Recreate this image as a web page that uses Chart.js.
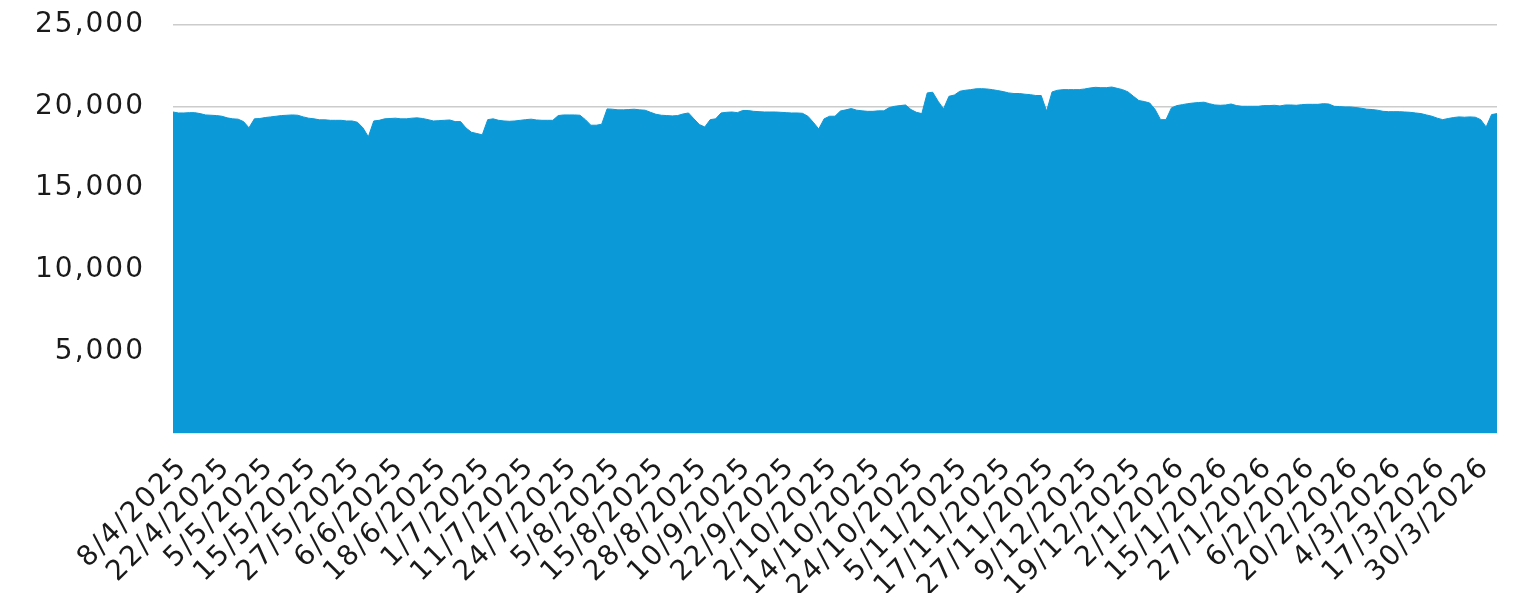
<!DOCTYPE html>
<html>
<head>
<meta charset="utf-8">
<script src="https://cdn.jsdelivr.net/npm/chart.js@4.4.1/dist/chart.umd.min.js"></script>
<style>
  html, body { margin: 0; padding: 0; background: #ffffff; overflow: hidden; }
  canvas { display: block; }
</style>
</head>
<body>
<canvas id="c" width="1530" height="593" style="width:1530px;height:593px"></canvas>
<script>
// Categories: trading dates (d/m/yyyy)
const dates = [
  "8/4/2025","9/4/2025","10/4/2025","11/4/2025","14/4/2025","15/4/2025","16/4/2025","17/4/2025",
  "22/4/2025","23/4/2025","24/4/2025","28/4/2025","29/4/2025","30/4/2025","1/5/2025","2/5/2025",
  "5/5/2025","6/5/2025","7/5/2025","8/5/2025","9/5/2025","12/5/2025","13/5/2025","14/5/2025",
  "15/5/2025","16/5/2025","19/5/2025","20/5/2025","21/5/2025","22/5/2025","23/5/2025","26/5/2025",
  "27/5/2025","28/5/2025","29/5/2025","30/5/2025","2/6/2025","3/6/2025","4/6/2025","5/6/2025",
  "6/6/2025","9/6/2025","10/6/2025","11/6/2025","12/6/2025","13/6/2025","16/6/2025","17/6/2025",
  "18/6/2025","19/6/2025","20/6/2025","23/6/2025","24/6/2025","25/6/2025","26/6/2025","27/6/2025",
  "1/7/2025","2/7/2025","3/7/2025","4/7/2025","7/7/2025","8/7/2025","9/7/2025","10/7/2025",
  "11/7/2025","14/7/2025","15/7/2025","16/7/2025","17/7/2025","18/7/2025","21/7/2025","22/7/2025",
  "24/7/2025","25/7/2025","28/7/2025","29/7/2025","30/7/2025","31/7/2025","1/8/2025","4/8/2025",
  "5/8/2025","6/8/2025","7/8/2025","8/8/2025","11/8/2025","12/8/2025","13/8/2025","14/8/2025",
  "15/8/2025","18/8/2025","19/8/2025","20/8/2025","21/8/2025","22/8/2025","26/8/2025","27/8/2025",
  "28/8/2025","29/8/2025","2/9/2025","3/9/2025","4/9/2025","5/9/2025","8/9/2025","9/9/2025",
  "10/9/2025","11/9/2025","12/9/2025","15/9/2025","16/9/2025","17/9/2025","18/9/2025","19/9/2025",
  "22/9/2025","23/9/2025","24/9/2025","25/9/2025","26/9/2025","29/9/2025","30/9/2025","1/10/2025",
  "2/10/2025","3/10/2025","6/10/2025","7/10/2025","8/10/2025","9/10/2025","10/10/2025","13/10/2025",
  "14/10/2025","15/10/2025","16/10/2025","17/10/2025","20/10/2025","21/10/2025","22/10/2025","23/10/2025",
  "24/10/2025","27/10/2025","28/10/2025","29/10/2025","30/10/2025","31/10/2025","3/11/2025","4/11/2025",
  "5/11/2025","6/11/2025","7/11/2025","10/11/2025","11/11/2025","12/11/2025","13/11/2025","14/11/2025",
  "17/11/2025","18/11/2025","19/11/2025","20/11/2025","21/11/2025","24/11/2025","25/11/2025","26/11/2025",
  "27/11/2025","28/11/2025","1/12/2025","2/12/2025","3/12/2025","4/12/2025","5/12/2025","8/12/2025",
  "9/12/2025","10/12/2025","11/12/2025","12/12/2025","15/12/2025","16/12/2025","17/12/2025","18/12/2025",
  "19/12/2025","22/12/2025","23/12/2025","24/12/2025","26/12/2025","29/12/2025","30/12/2025","31/12/2025",
  "2/1/2026","5/1/2026","6/1/2026","7/1/2026","8/1/2026","9/1/2026","12/1/2026","13/1/2026",
  "15/1/2026","16/1/2026","19/1/2026","20/1/2026","21/1/2026","22/1/2026","23/1/2026","26/1/2026",
  "27/1/2026","28/1/2026","29/1/2026","30/1/2026","2/2/2026","3/2/2026","4/2/2026","5/2/2026",
  "6/2/2026","9/2/2026","10/2/2026","11/2/2026","12/2/2026","13/2/2026","17/2/2026","18/2/2026",
  "20/2/2026","23/2/2026","24/2/2026","25/2/2026","26/2/2026","27/2/2026","2/3/2026","3/3/2026",
  "4/3/2026","5/3/2026","6/3/2026","10/3/2026","11/3/2026","12/3/2026","13/3/2026","16/3/2026",
  "17/3/2026","18/3/2026","19/3/2026","20/3/2026","23/3/2026","24/3/2026","25/3/2026","26/3/2026",
  "30/3/2026","31/3/2026","1/4/2026","2/4/2026","7/4/2026"
];

// Series values, one per date
const values = [
  19670,19610,19610,19630,19630,19570,19490,19470,
  19450,19410,19310,19250,19230,19080,18700,19250,
  19270,19330,19370,19410,19450,19470,19490,19470,
  19370,19290,19250,19190,19190,19160,19160,19160,
  19120,19120,19040,18700,18150,19120,19160,19250,
  19270,19290,19250,19250,19290,19310,19270,19200,
  19120,19140,19160,19180,19080,19080,18690,18430,
  18350,18270,19200,19250,19160,19120,19100,19120,
  19160,19200,19230,19180,19160,19160,19160,19450,
  19490,19490,19490,19470,19200,18860,18860,18920,
  19860,19840,19800,19800,19820,19840,19800,19780,
  19650,19530,19470,19450,19430,19450,19550,19610,
  19250,18900,18750,19200,19250,19610,19650,19670,
  19630,19760,19760,19710,19690,19670,19670,19670,
  19650,19630,19610,19610,19590,19410,19040,18630,
  19250,19410,19410,19730,19800,19880,19780,19740,
  19710,19710,19740,19740,19940,20020,20060,20100,
  19820,19650,19570,20840,20880,20330,19860,20630,
  20710,20940,21000,21040,21090,21100,21080,21040,
  20980,20920,20840,20800,20800,20760,20730,20680,
  20680,19720,20900,21000,21040,21040,21040,21040,
  21080,21140,21180,21160,21160,21200,21120,21040,
  20900,20630,20370,20310,20220,19820,19200,19200,
  19920,20060,20120,20180,20220,20250,20270,20180,
  20100,20080,20100,20160,20060,20020,20020,20020,
  20020,20060,20060,20080,20040,20100,20100,20080,
  20120,20140,20140,20140,20180,20160,20020,20000,
  19980,19980,19940,19900,19840,19820,19780,19710,
  19690,19690,19690,19670,19650,19610,19570,19490,
  19410,19290,19200,19270,19330,19370,19350,19370,
  19350,19200,18750,19510,19570
];

// Tick labels shown on the category axis
const tickLabels = [
  "8/4/2025","22/4/2025","5/5/2025","15/5/2025","27/5/2025","6/6/2025","18/6/2025",
  "1/7/2025","11/7/2025","24/7/2025","5/8/2025","15/8/2025","28/8/2025","10/9/2025",
  "22/9/2025","2/10/2025","14/10/2025","24/10/2025","5/11/2025","17/11/2025","27/11/2025",
  "9/12/2025","19/12/2025","2/1/2026","15/1/2026","27/1/2026","6/2/2026","20/2/2026",
  "4/3/2026","17/3/2026","30/3/2026"
];

// Value axis ticks
const yTicks = [0, 5000, 10000, 15000, 20000, 25000];

const FONT = "'DejaVu Sans', sans-serif";
const shown = new Set(tickLabels);

const spacing = {
  id: 'spacing',
  beforeLayout(chart) { try { chart.ctx.letterSpacing = '2px'; } catch (e) {} },
  beforeDraw(chart) { try { chart.ctx.letterSpacing = '2px'; } catch (e) {} }
};

new Chart(document.getElementById('c'), {
  type: 'line',
  plugins: [spacing],
  data: {
    labels: dates,
    datasets: [{
      data: values,
      fill: 'origin',
      backgroundColor: '#0c99d7',
      borderColor: '#0c99d7',
      borderWidth: 1,
      pointRadius: 0,
      tension: 0
    }]
  },
  options: {
    responsive: false,
    maintainAspectRatio: false,
    animation: false,
    devicePixelRatio: 1,
    layout: { padding: { top: 25, right: 33, left: 0, bottom: 0 } },
    plugins: { legend: { display: false }, tooltip: { enabled: false } },
    scales: {
      x: {
        offset: false,
        grid: { display: false },
        border: { display: false },
        ticks: {
          autoSkip: false,
          maxRotation: 45,
          minRotation: 45,
          padding: 10,
          labelOffset: 10,
          color: '#1a1a1a',
          font: { family: FONT, size: 28 },
          callback: function(v, i) { const l = dates[i]; return shown.has(l) ? l : null; }
        },
        afterFit: function(s) {
          s.height = 160;
          s.paddingLeft = 0; s.paddingRight = 0; s.paddingTop = 0; s.paddingBottom = 0;
        }
      },
      y: {
        min: yTicks[0],
        max: yTicks[yTicks.length - 1],
        afterBuildTicks: function(s) { s.ticks = yTicks.map(v => ({ value: v })); },
        grid: { color: '#cccccc', lineWidth: 1.5, drawTicks: false },
        border: { display: false },
        ticks: {
          padding: 28,
          color: '#1a1a1a',
          font: { family: FONT, size: 28 },
          callback: function(v) { return v === 0 ? '' : v.toLocaleString('en-US'); }
        },
        afterFit: function(s) {
          s.width = 173;
          s.paddingLeft = 0; s.paddingRight = 0; s.paddingTop = 0; s.paddingBottom = 0;
        }
      }
    }
  }
});
</script>
</body>
</html>
